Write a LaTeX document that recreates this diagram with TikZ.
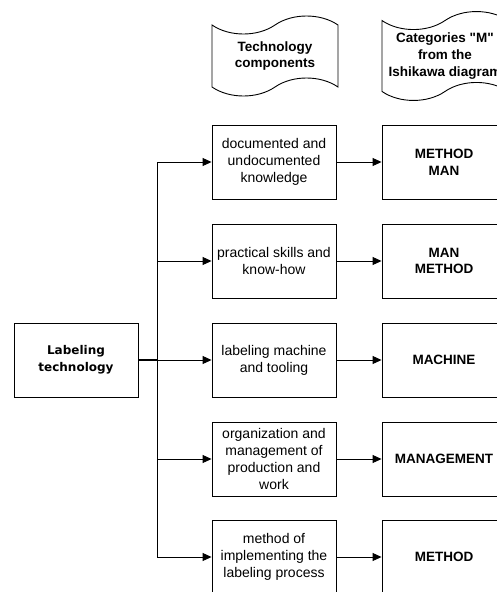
\documentclass[tikz,border=0pt]{standalone}
\usepackage{fontspec}
\setmainfont{Liberation Sans}
\newfontfamily\plainsans{Liberation Sans}
\newfontfamily\dejavu{DejaVu Sans}
\usetikzlibrary{arrows.meta,shapes.symbols}

\begin{document}
\begin{tikzpicture}[
    x=1pt, y=-1pt,
    box/.style={draw, line width=0.9pt, minimum width=124pt, minimum height=74pt,
                inner sep=2pt, align=center, font=\fontsize{14}{16.8}\selectfont},
    cat/.style={box, font=\fontsize{13.5}{16.8}\selectfont\bfseries},
    hdr/.style={tape, draw, line width=0.9pt, minimum width=126pt, minimum height=80pt,
                tape bend height=18pt, align=center,
                font=\plainsans\fontsize{13.5}{16.8}\selectfont\bfseries},
    link/.style={line width=0.9pt, -{Triangle[length=9pt,width=8pt]}},
]
\useasboundingbox (0,0) rectangle (497,592);
\clip (0,0) rectangle (497,592);

% Column headers
\node[hdr] (hdrcomp) at (275,56) {Technology\\components};
\node[hdr] (hdrcat) at (445,56) {Categories "M"\\from the\\Ishikawa diagram};

% Main box and trunk
\node[box, font=\dejavu\bfseries\fontsize{12}{17}\selectfont] (tech) at (76,360) {Labeling\\technology};
\coordinate (hub) at (157,360);
\coordinate (trunktop) at (157,162);
\coordinate (trunkbot) at (157,557);
\draw[line width=2pt] (tech.east) -- (hub);
\draw[line width=0.9pt] (trunktop) -- (trunkbot);

% Components and their categories
\foreach \i/\y/\ctext/\mtext in {
    1/162/{documented and\\undocumented\\knowledge}/{METHOD\\MAN},
    2/261/{practical skills and\\know-how}/{MAN\\METHOD},
    3/360/{labeling machine\\and tooling}/{MACHINE},
    4/459/{organization and\\management of\\production and\\work}/{MANAGEMENT},
    5/557/{method of\\implementing the\\labeling process}/{METHOD}}{
  \node[box] (comp\i) at (274,\y) {\ctext};
  \node[cat] (cat\i) at (444,\y) {\mtext};
  \draw[link] (comp\i.west -| hub) -- (comp\i.west);
  \draw[link] (comp\i.east) -- (cat\i.west);
}

\end{tikzpicture}
\end{document}
